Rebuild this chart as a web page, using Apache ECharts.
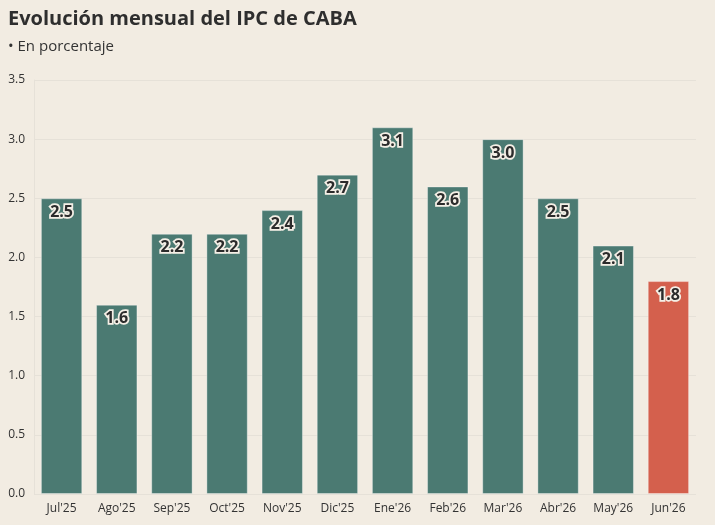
<!DOCTYPE html>
<html><head><meta charset="utf-8">
<script src="https://cdn.jsdelivr.net/npm/echarts@6/dist/echarts.min.js"></script>
<style>html,body{margin:0;padding:0;background:#f2ece2;}#c{width:715px;height:525px;}</style>
</head><body><div id="c"></div>
<script>
const categories = ["Jul'25","Ago'25","Sep'25","Oct'25","Nov'25","Dic'25","Ene'26","Feb'26","Mar'26","Abr'26","May'26","Jun'26"];
const values = [2.5,1.6,2.2,2.2,2.4,2.7,3.1,2.6,3.0,2.5,2.1,1.8];
const highlightIndex = 11;
const chart = echarts.init(document.getElementById('c'));
const FONT = "'Open Sans','Noto Sans',sans-serif";
chart.setOption({
  backgroundColor:'#f2ece2',
  textStyle:{fontFamily:FONT},
  title:{
    text:'Evolución mensual del IPC de CABA',
    subtext:'• En porcentaje',
    left:3, top:4,
    textStyle:{fontSize:20,fontWeight:'bold',color:'#2e2e2e',fontFamily:FONT},
    subtextStyle:{fontSize:15,color:'#333',fontFamily:FONT},
    itemGap:10
  },
  grid:{left:34,right:19,top:80,bottom:31,containLabel:false},
  xAxis:{
    type:'category',data:categories,
    axisLine:{show:false},axisTick:{show:false},
    axisLabel:{color:'#333',fontSize:12,margin:9,fontFamily:FONT},
    splitLine:{show:false}
  },
  yAxis:{
    type:'value',min:0,max:3.5,interval:0.5,
    axisLine:{show:true,lineStyle:{color:'#e6e1d8',width:1}},
    axisLabel:{color:'#333',fontSize:12,margin:9,formatter:v=>v.toFixed(1),fontFamily:FONT},
    splitLine:{lineStyle:{color:'#e6e1d8',width:1}}
  },
  series:[{
    type:'bar',
    data:values.map((v,i)=>({value:v,itemStyle:{color:i===highlightIndex?'#d4604d':'#4b7a72'}})),
    barCategoryGap:'25%',
    itemStyle:{borderColor:'rgba(255,255,255,0.35)',borderWidth:1},
    label:{
      show:true,position:'insideTop',distance:6,
      formatter:p=>p.value.toFixed(1),
      fontSize:16,fontWeight:'bold',color:'#2b2b2b',
      textBorderColor:'#f4efe6',textBorderWidth:3.5,fontFamily:FONT
    }
  }]
});
</script></body></html>
